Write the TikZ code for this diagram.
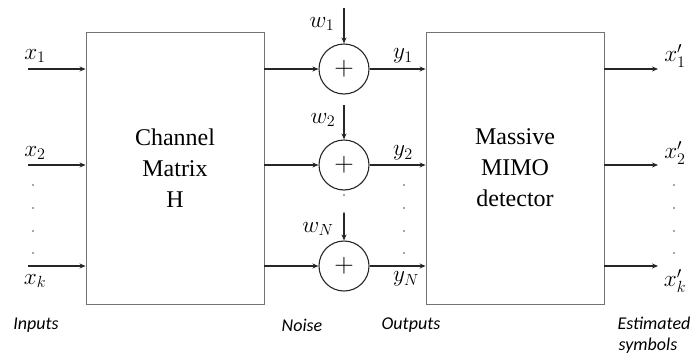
\documentclass[tikz,border=0pt]{standalone}
\usepackage{fontspec}
\setmainfont{Liberation Serif}
\newfontfamily\labfont{Carlito}
\usetikzlibrary{arrows.meta,calc}
\newcommand{\mlab}[1]{\scalebox{1.12}{$#1$}}
\begin{document}
\begin{tikzpicture}[x=1pt,y=-1pt,
  arr/.style={line width=1.4pt,draw=black!85,-{Stealth[length=6pt,width=5pt]}},
  blk/.style={draw=black!55,line width=0.9pt,minimum width=178pt,minimum height=272pt,inner sep=0pt,
     align=center,font=\fontsize{24}{31}\selectfont},
  summer/.style={circle,draw=black!85,line width=1.1pt,minimum size=50pt,inner sep=0pt,
     font=\fontsize{20.74}{22}\selectfont},
  lab/.style={inner sep=0pt,font=\fontsize{20.74}{24}\selectfont},
  captxt/.style={inner sep=0pt,font=\labfont\itshape\fontsize{18}{22}\selectfont,align=center},
  dotc/.style={fill=black!70,draw=none,circle,inner sep=0pt,minimum size=1.8pt}]
\useasboundingbox (0,0) rectangle (695,356);
% blocks
\node[blk] (b1) at (175,168) {Channel\\Matrix\\H};
\node[blk] (b2) at (515,168) {Massive\\MIMO\\detector};
% adders
\node[summer] (s1) at (344,69) {\scalebox{1.3}{$+$}};
\node[summer] (s2) at (344,165) {\scalebox{1.3}{$+$}};
\node[summer] (s3) at (344,266) {\scalebox{1.3}{$+$}};
% inputs
\coordinate (i1) at (28,69);
\coordinate (i2) at (28,165);
\coordinate (i3) at (28,266);
\draw[arr] (i1) -- (i1 -| b1.west);
\draw[arr] (i2) -- (i2 -| b1.west);
\draw[arr] (i3) -- (i3 -| b1.west);
\node[lab] (lx1) at (35,56) {\mlab{x_1}};
\node[lab] (lx2) at (35,153) {\mlab{x_2}};
\node[lab] (lxk) at (35,281) {\mlab{x_k}};
\foreach \yy [count=\i] in {185,208,231,253} \node[dotc] (dl\i) at (33,\yy) {};
% box1 -> adders
\draw[arr] (s1 -| b1.east) -- (s1.west);
\draw[arr] (s2 -| b1.east) -- (s2.west);
\draw[arr] (s3 -| b1.east) -- (s3.west);
% noise
\coordinate (n1) at (344,8);
\coordinate (n2) at (344,105);
\coordinate (n3) at (344,213);
\draw[arr] (n1) -- (s1.north);
\draw[arr] (n2) -- (s2.north);
\draw[arr] (n3) -- (s3.north);
\node[dotc] (dn1) at (344,195) {};
\node[dotc] (dn2) at (344,213) {};
\node[lab] (lw1) at (322,24) {\mlab{w_1}};
\node[lab] (lw2) at (323,120) {\mlab{w_2}};
\node[lab] (lw3) at (318,229) {\mlab{w_N}};
% adders -> box2
\draw[arr] (s1.east) -- (s1 -| b2.west);
\draw[arr] (s2.east) -- (s2 -| b2.west);
\draw[arr] (s3.east) -- (s3 -| b2.west);
\node[lab] (ly1) at (403,56) {\mlab{y_1}};
\node[lab] (ly2) at (403,153) {\mlab{y_2}};
\node[lab] (ly3) at (406,279) {\mlab{y_N}};
\foreach \yy [count=\i] in {185,208,231,253} \node[dotc] (dm\i) at (404,\yy) {};
% outputs
\coordinate (o1) at (658,69);
\coordinate (o2) at (658,165);
\coordinate (o3) at (658,266);
\draw[arr] (o1 -| b2.east) -- (o1);
\draw[arr] (o2 -| b2.east) -- (o2);
\draw[arr] (o3 -| b2.east) -- (o3);
\node[lab] (lo1) at (675,56) {\mlab{x_1'}};
\node[lab] (lo2) at (675,153) {\mlab{x_2'}};
\node[lab] (lo3) at (675,281) {\mlab{x_k'}};
\foreach \yy [count=\i] in {185,208,231,253} \node[dotc] (dr\i) at (674,\yy) {};
% captions
\node[captxt] (c1) at (36,325) {Inputs};
\node[captxt] (c2) at (302,325) {Noise};
\node[captxt] (c3) at (411,325) {Outputs};
\node[captxt] (c4) at (654,323) {Estimated};
\node[captxt] (c5) at (648,346) {symbols};
\end{tikzpicture}
\end{document}
